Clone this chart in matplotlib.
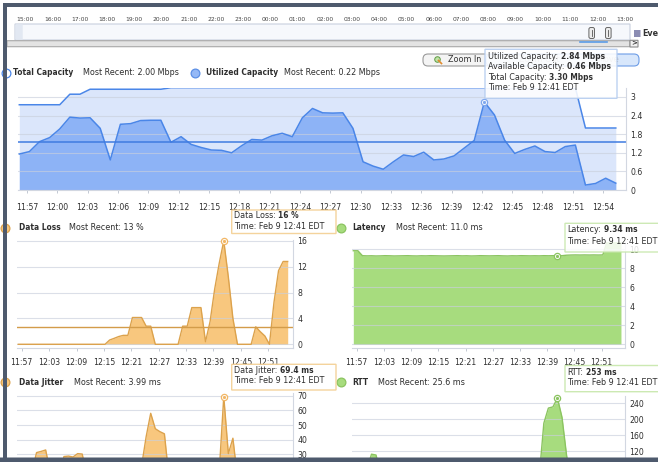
import numpy as np
import matplotlib
matplotlib.use("Agg")
import matplotlib.pyplot as plt
from matplotlib.patches import FancyBboxPatch
from matplotlib.lines import Line2D
from matplotlib.transforms import Affine2D

W, H = 658, 462

# one sample per minute, first sample just before 11:57
utilized = [1.16, 1.24, 1.56, 1.69, 1.97, 2.35, 2.32, 2.33, 1.99, 0.97,
            2.12, 2.14, 2.24, 2.25, 2.25, 1.54, 1.72, 1.47, 1.37, 1.29,
            1.28, 1.20, 1.43, 1.63, 1.61, 1.75, 1.83, 1.72, 2.33, 2.63,
            2.49, 2.48, 2.49, 1.99, 0.91, 0.77, 0.67, 0.91, 1.13, 1.08,
            1.22, 0.97, 1.00, 1.10, 1.35, 1.60, 2.84, 2.42, 1.61, 1.18,
            1.31, 1.42, 1.24, 1.21, 1.40, 1.45, 0.16, 0.21, 0.38, 0.22]
total = [2.75, 2.75, 2.75, 2.75, 2.75, 3.09, 3.09, 3.25, 3.25, 3.25,
         3.25, 3.25, 3.25, 3.25, 3.25, 3.30, 3.30, 3.30, 3.30, 3.30,
         3.30, 3.30, 3.30, 3.30, 3.30, 3.30, 3.30, 3.30, 3.30, 3.30,
         3.30, 3.30, 3.30, 3.30, 3.30, 3.30, 3.30, 3.30, 3.30, 3.30,
         3.30, 3.30, 3.30, 3.30, 3.30, 3.30, 3.30, 3.30, 3.30, 3.30,
         3.30, 3.30, 3.30, 3.30, 3.30, 3.30, 2.00, 2.00, 2.00, 2.00]
util_avg = 1.56

loss = [0, 0, 0, 0, 0, 0, 0, 0, 0, 0,
        0, 0, 0, 0, 0, 0, 0, 0, 0, 0,
        0.66, 0.92, 1.2, 1.38, 1.38, 4.14, 4.14, 4.14, 2.8, 2.8,
        0, 0, 0, 0, 0, 0, 2.8, 2.8, 5.67, 5.67,
        5.67, 0.4, 3.5, 8.5, 12.5, 16.0, 10.4, 4.0, 0, 0,
        0, 0, 2.7, 1.94, 1.28, 0, 6.5, 11.4, 12.8, 12.8]
loss_avg = 2.6

latency = [9.85, 9.85, 9.33, 9.31, 9.32, 9.30, 9.31, 9.33, 9.32, 9.30,
           9.31, 9.32, 9.33, 9.31, 9.30, 9.32, 9.31, 9.33, 9.32, 9.31,
           9.30, 9.31, 9.32, 9.33, 9.31, 9.32, 9.30, 9.31, 9.33, 9.32,
           9.31, 9.32, 9.33, 9.31, 9.30, 9.32, 9.31, 9.33, 9.32, 9.31,
           9.32, 9.31, 9.33, 9.32, 9.33, 9.34, 9.33, 9.38, 9.40, 9.41,
           9.40, 9.41, 9.40, 9.41, 9.40, 9.41, 10.9, 11.2, 11.1, 11.0]

jitter = [8.2, 6.5, 9.1, 18.0, 31.2, 32.0, 33.0, 17.5, 9.0, 14.0,
          28.5, 28.8, 28.2, 30.5, 30.2, 16.0, 7.4, 5.1, 6.3, 8.8,
          11.2, 9.5, 13.0, 10.4, 12.1, 9.7, 8.3, 22.0, 42.0, 58.0,
          47.5, 45.5, 44.0, 14.0, 6.2, 5.0, 7.7, 9.2, 11.5, 10.0,
          8.1, 6.9, 9.8, 12.6, 18.0, 69.4, 30.5, 41.0, 14.0, 6.0,
          5.2, 4.8, 9.5, 7.1, 5.5, 6.4, 14.2, 9.8, 6.0, 3.99]

rtt = [28.4, 31.0, 45.2, 72.0, 112.0, 110.0, 64.0, 38.5, 30.2, 27.6,
       29.8, 33.1, 40.5, 36.2, 30.0, 27.3, 26.5, 28.8, 32.4, 29.1,
       27.0, 35.6, 48.3, 41.2, 38.0, 55.4, 47.9, 36.7, 62.5, 78.0,
       58.3, 42.1, 33.5, 29.0, 27.8, 26.4, 31.9, 44.7, 39.2, 35.0,
       33.3, 58.0, 190.0, 228.0, 231.0, 253.0, 205.0, 110.0, 38.0, 29.5,
       27.2, 30.6, 34.8, 31.0, 28.3, 27.1, 40.2, 36.5, 29.4, 25.6]

main_ticks = ['11:57', '12:00', '12:03', '12:06', '12:09', '12:12', '12:15',
              '12:18', '12:21', '12:24', '12:27', '12:30', '12:33', '12:36',
              '12:39', '12:42', '12:45', '12:48', '12:51', '12:54']
small_ticks = ['11:57', '12:03', '12:09', '12:15', '12:21', '12:27',
               '12:33', '12:39', '12:45', '12:51']
hours = ['15:00', '16:00', '17:00', '18:00', '19:00', '20:00', '21:00',
         '22:00', '23:00', '00:00', '01:00', '02:00', '03:00', '04:00',
         '05:00', '06:00', '07:00', '08:00', '09:00', '10:00', '11:00',
         '12:00', '13:00']
hover_time = 'Feb 9 12:41 EDT'
hover_main = 46
hover = 45

t = np.arange(len(utilized)) - 0.75   # minutes after 11:57

BLUE = '#4a86e8'
ORANGE_F, ORANGE_L = '#f8c77e', '#dca24c'
GREEN_F, GREEN_L = '#a7dc7e', '#8bc460'
TXT = '#2e2e2e'
FS = 5.8     # regular text
FSB = 5.45   # bold text
FST = 5.6    # tick labels

fig = plt.figure(figsize=(W / 100, H / 100), dpi=100)
fig.patch.set_facecolor('white')
# pixel coordinates, origin top-left
PX = Affine2D().scale(1 / W, -1 / H).translate(0, 1) + fig.transFigure


def px_axes(x0, y0, x1, y1):
    return fig.add_axes([x0 / W, 1 - y1 / H, (x1 - x0) / W, (y1 - y0) / H])


def style(ax, xlim, ylim, yticks, xticks, xlabels, pad):
    ax.set_xlim(*xlim)
    ax.set_ylim(*ylim)
    ax.patch.set_alpha(0)
    ax.yaxis.tick_right()
    ax.set_yticks(yticks)
    ax.set_yticklabels([f'{v:g}' for v in yticks])
    ax.set_xticks(xticks)
    ax.set_xticklabels(xlabels)
    for s in ['left', 'top']:
        ax.spines[s].set_visible(False)
    for s in ['right', 'bottom']:
        ax.spines[s].set_color('#d2d7e1')
        ax.spines[s].set_linewidth(0.8)
    ax.tick_params(axis='y', length=0, pad=3, labelsize=FST, labelcolor=TXT)
    ax.tick_params(axis='x', length=2.5, width=0.6, color='#b9c0cc', pad=pad,
                   labelsize=FST, labelcolor=TXT)
    ax.set_axisbelow('line')
    ax.grid(axis='y', color='#c9cfdc', alpha=0.65, lw=0.8)
    ax.grid(axis='x', visible=False)


def hover_mark(ax, x, y, col):
    ax.plot([x], [y], marker='o', ms=4.5, mfc='white', mec=col, mew=0.9,
            clip_on=False, zorder=6)
    ax.plot([x], [y], marker='o', ms=1.3, color=col, clip_on=False, zorder=7)


def text(x, y, s, size=None, weight='normal', color=TXT, z=3, ha='left'):
    if size is None:
        size = FSB if weight == 'bold' else FS
    return fig.text(x, y, s, transform=PX, fontsize=size, fontweight=weight,
                    color=color, va='center', ha=ha, zorder=z)


def rich(x, y, parts, z=6):
    r = fig.canvas.get_renderer()
    for s, w in parts:
        tx = text(x, y, s, weight=w, z=z)
        x += tx.get_window_extent(r).width + 2.6


def legend_dot(x, y, face, edge):
    fig.add_artist(Line2D([x], [y], marker='o', ms=6.3, mfc=face, mec=edge,
                          mew=0.9, transform=PX, zorder=4))


def line(xs, ys, col, lw, z=3):
    fig.add_artist(Line2D(xs, ys, color=col, lw=lw, transform=PX, zorder=z))


def box(x0, y0, x1, y1, face, edge, z, alpha=1.0, r=0.0, lw=0.8):
    fig.add_artist(FancyBboxPatch((x0, y0), x1 - x0, y1 - y0,
                                  boxstyle=f'round,pad=0,rounding_size={r}',
                                  transform=PX, facecolor=face, edgecolor=edge,
                                  lw=lw, alpha=alpha, zorder=z))


# ---------------- main capacity chart ----------------
ax = px_axes(18, 87.7, 626, 190)
ax.fill_between(t, 0, total, color='#dbe6fb', lw=0)
ax.fill_between(t, 0, utilized, color='#8db3f6', lw=0)
ax.plot(t, total, color=BLUE, lw=1.1)
ax.plot(t, utilized, color=BLUE, lw=1.1)
ax.axhline(util_avg, color='#3f7be0', lw=1.1)
style(ax, (-0.88, 59.26), (0, 3.3), [0, 0.6, 1.2, 1.8, 2.4, 3.0],
      np.arange(0, 58, 3), main_ticks, 6.5)
hover_mark(ax, t[hover_main], utilized[hover_main], '#7fa8ee')

# ---------------- data loss ----------------
ax = px_axes(17, 240, 293, 348.3)
ax.fill_between(t, 0, loss, color=ORANGE_F, lw=0)
ax.plot(t, loss, color=ORANGE_L, lw=1.0)
ax.axhline(loss_avg, color='#d39c4a', lw=1.0)
style(ax, (-1.03, 59.41), (-0.62, 16.12), [0, 4, 8, 12, 16],
      np.arange(0, 55, 6), small_ticks, 4.3)
hover_mark(ax, t[hover], loss[hover], '#f2b766')

# ---------------- latency ----------------
ax = px_axes(352, 242, 625, 348.3)
ax.fill_between(t, 0, latency, color=GREEN_F, lw=0)
ax.plot(t, latency, color=GREEN_L, lw=1.0)
style(ax, (-1.04, 59.14), (-0.42, 10.77), [0, 2, 4, 6, 8, 10],
      np.arange(0, 55, 6), small_ticks, 4.3)
hover_mark(ax, t[hover], latency[hover], GREEN_L)

# ---------------- data jitter (lower part hidden below the window) ----------------
ax = px_axes(17, 393, 293, 502.3)
ax.fill_between(t, 0, jitter, color=ORANGE_F, lw=0)
ax.plot(t, jitter, color=ORANGE_L, lw=1.0)
style(ax, (-1.03, 59.41), (-2.7, 71.84), [30, 40, 50, 60, 70], [], [], 4.3)
hover_mark(ax, t[hover], jitter[hover], '#f2b766')

# ---------------- RTT ----------------
ax = px_axes(352, 396, 625, 502.7)
ax.fill_between(t, 0, rtt, color=GREEN_F, lw=0)
ax.plot(t, rtt, color=GREEN_L, lw=1.0)
style(ax, (-1.04, 59.14), (-10, 258.4), [120, 160, 200, 240], [], [], 4.3)
hover_mark(ax, t[hover], rtt[hover], GREEN_L)

# ---------------- timeline strip ----------------
box(15, 24, 630, 40, '#f6f8fc', '#c8d0de', 1)
box(15.4, 24.4, 22.7, 39.6, '#e2e8f2', 'none', 1, lw=0)
tl = px_axes(15, 24, 630, 40)
tl.set_xlim(0, 22.57)
tl.set_ylim(0, 1)
tl.axis('off')
for k, lab in enumerate(hours):
    if k > 0:
        tl.axvline(k, color='#dde3ee', lw=0.8)
    tl.text(k + 0.06, 1.3, lab, transform=tl.get_xaxis_transform(), ha='left',
            va='center', fontsize=4.3, color='#444')
for hx in (591.7, 608.3):
    box(hx - 2.8, 27.5, hx + 2.8, 38.5, '#ececec', '#666666', 3, r=1.8, lw=0.7)
    line([hx, hx], [30, 36], '#555', 0.6, 4)
box(7, 40.7, 630, 46.7, '#e3e3e3', '#a8a8a8', 1)
box(630, 40.3, 638, 47, '#f2f2f2', '#8a8a8a', 2)
text(634, 43.7, '>', size=5, weight='bold', color='#333', ha='center')
line([580, 607], [41.9, 41.9], '#5b9be6', 1.2)
box(634, 30, 640.5, 37, '#8c8db3', 'none', 2, lw=0)
text(642, 33.5, 'Eve', size=5.8, weight='bold', color='#333')

# ---------------- zoom buttons ----------------
box(423, 54, 490, 66, '#f4f4f4', '#9a9a9a', 2, r=5)
box(486, 54, 639, 66, '#d8e7fb', '#6d9de6', 2, r=5)
fig.add_artist(Line2D([436.5], [58.5], marker='o', ms=4, mfc='#bfe3a6',
                      mec='#5f9a45', mew=0.7, transform=PX, zorder=3))
line([438.5, 441.5], [60.5, 63.5], '#e08a2c', 1.2)
text(448, 60, 'Zoom In', color='#333')
text(519, 60, 'Zoom Out', color='#a5a5a5')
text(597, 60, 'Move', color='#a5a5a5')

# ---------------- legends ----------------
legend_dot(5.5, 72.5, 'white', BLUE)
text(13, 72.5, 'Total Capacity', weight='bold')
text(82.7, 72.5, f'Most Recent: {total[-1]:.2f} Mbps')
legend_dot(194.5, 72.5, '#94b8f6', '#5b8fe6')
text(205.5, 72.5, 'Utilized Capacity', weight='bold')
text(284.3, 72.5, f'Most Recent: {utilized[-1]:.2f} Mbps')

legend_dot(5, 227.7, ORANGE_F, ORANGE_L)
text(18.7, 227.7, 'Data Loss', weight='bold')
text(69, 227.7, f'Most Recent: {loss[-1]:.0f} %')
legend_dot(341, 227.7, GREEN_F, GREEN_L)
text(352.7, 227.7, 'Latency', weight='bold')
text(395.7, 227.7, f'Most Recent: {latency[-1]:.1f} ms')

legend_dot(5, 382.3, ORANGE_F, ORANGE_L)
text(18.7, 382.3, 'Data Jitter', weight='bold')
text(73.7, 382.3, f'Most Recent: {jitter[-1]:.2f} ms')
legend_dot(341, 382.3, GREEN_F, GREEN_L)
text(352.7, 382.3, 'RTT', weight='bold')
text(377.7, 382.3, f'Most Recent: {rtt[-1]:.1f} ms')

# ---------------- tooltips ----------------
box(485, 49.3, 617, 98.3, 'white', '#b3cbef', 5, alpha=0.88, lw=1.0)
u, tc = utilized[hover_main], total[hover_main]
rich(488, 56.3, [('Utilized Capacity:', 'normal'), (f'{u:.2f} Mbps', 'bold')])
rich(488, 66.8, [('Available Capacity:', 'normal'), (f'{tc - u:.2f} Mbps', 'bold')])
rich(488, 77.3, [('Total Capacity:', 'normal'), (f'{tc:.2f} Mbps', 'bold')])
rich(488, 87.8, [(f'Time: {hover_time}', 'normal')])

box(231.7, 210, 336, 233.5, 'white', '#f3cd8e', 5, alpha=0.88, lw=1.0)
rich(234, 216, [('Data Loss:', 'normal'), (f'{loss[hover]:.0f} %', 'bold')])
rich(234, 226.7, [(f'Time: {hover_time}', 'normal')])

box(565, 223.3, 664, 252, 'white', '#c5e6a8', 5, alpha=0.85, lw=1.0)
rich(567.5, 230, [('Latency:', 'normal'), (f'{latency[hover]:.2f} ms', 'bold')])
rich(567.5, 241, [(f'Time: {hover_time}', 'normal')])

box(231.7, 364.3, 336, 390, 'white', '#f3cd8e', 5, alpha=0.88, lw=1.0)
rich(234, 370.3, [('Data Jitter:', 'normal'), (f'{jitter[hover]:.1f} ms', 'bold')])
rich(234, 380.5, [(f'Time: {hover_time}', 'normal')])

box(565, 365.5, 664, 391.7, 'white', '#c5e6a8', 5, alpha=0.88, lw=1.0)
rich(567.5, 372.3, [('RTT:', 'normal'), (f'{rtt[hover]:.0f} ms', 'bold')])
rich(567.5, 382.3, [(f'Time: {hover_time}', 'normal')])

# ---------------- window frame ----------------
FRAME = '#4e5a6d'
box(3, 3, 660, 7, FRAME, 'none', 20, lw=0)
box(3, 3, 7, 465, FRAME, 'none', 20, lw=0)
box(0, 457.5, 660, 465, FRAME, 'none', 20, lw=0)

fig.savefig('out.png', dpi=100)
